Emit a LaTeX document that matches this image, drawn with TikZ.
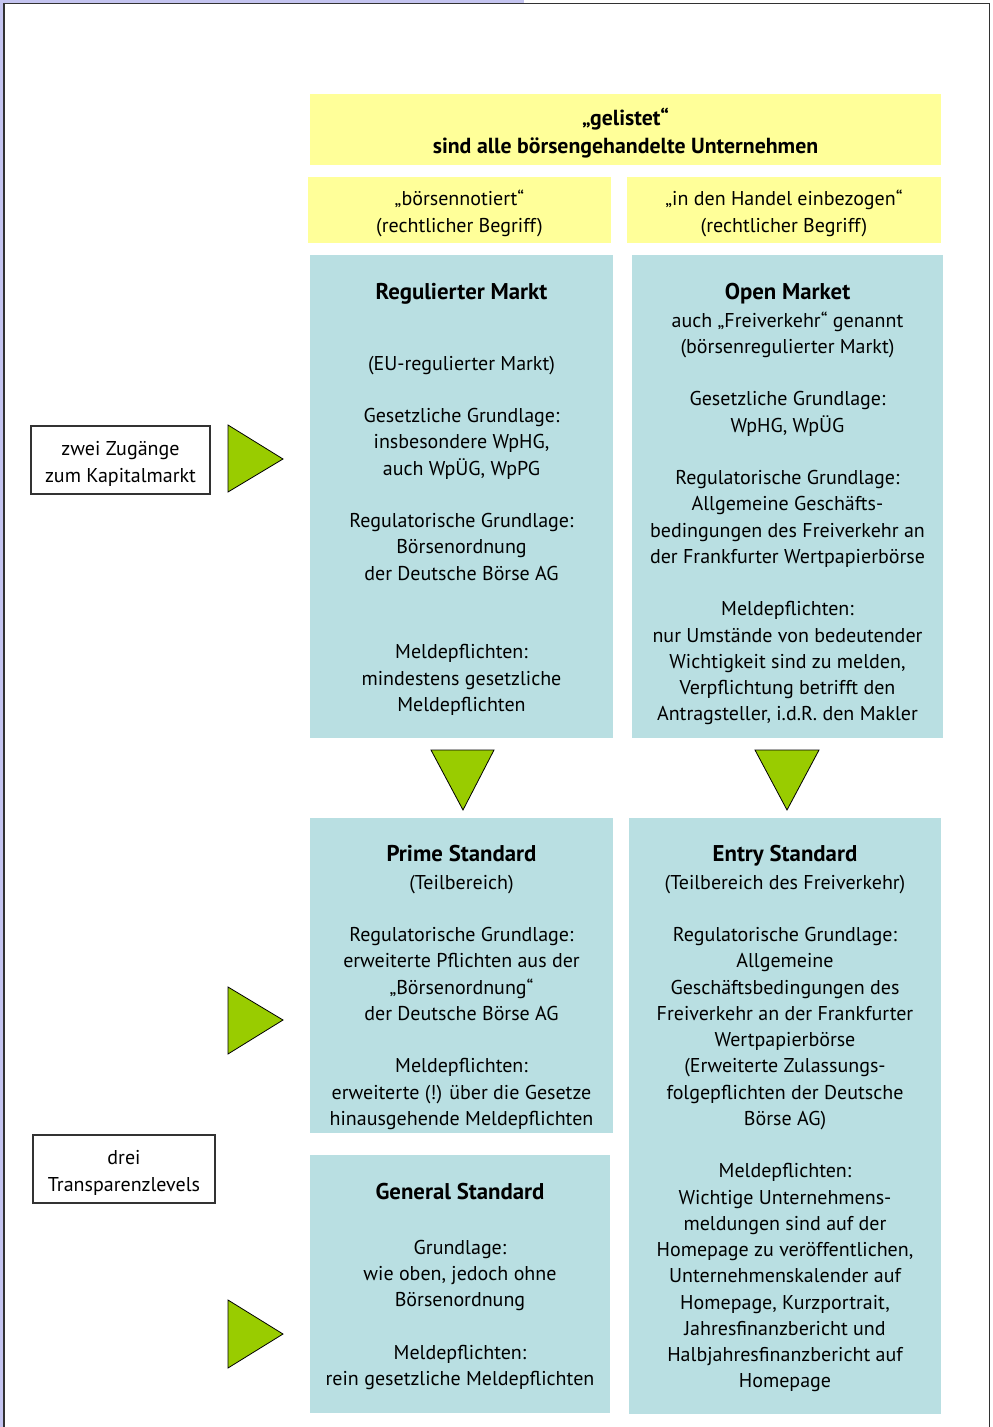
\documentclass[tikz,border=0pt]{standalone}
\usepackage{fontspec}
\setmainfont{PT Sans}
\usetikzlibrary{positioning}
\definecolor{myyellow}{RGB}{255,255,153}
\definecolor{myblue}{RGB}{185,223,226}
\definecolor{mygreen}{RGB}{153,204,0}
\definecolor{mylavender}{RGB}{196,196,240}
\definecolor{myframe}{RGB}{50,50,50}
\newcommand{\diagbody}{\fontsize{20}{26.25}\selectfont}
\newcommand{\diagtitle}{\bfseries\fontsize{22.8}{29}\selectfont}
\newcommand{\diaghead}{\bfseries\fontsize{21.8}{28}\selectfont}
\tikzset{
  yellowbox/.style={rectangle, fill=myyellow, anchor=north west, inner sep=0pt},
  bluebox/.style={rectangle, fill=myblue, anchor=north west, inner sep=0pt},
  labelbox/.style={rectangle, draw=myframe, line width=1.2pt,
    minimum height=68pt, inner sep=0pt},
  headtext/.style={align=center, font=\diaghead, inner sep=0pt},
  subtext/.style={align=center, font=\diagbody, inner sep=0pt},
  titletext/.style={anchor=base, font=\diagtitle, inner sep=0pt},
  bodytext/.style={anchor=north, align=center, font=\diagbody, inner sep=0pt},
  pointer/.style={draw=black, line width=0.8pt, fill=mygreen, line join=miter}
}

\begin{document}
\begin{tikzpicture}[x=1pt, y=-1pt]
  \useasboundingbox (0,0) rectangle (993,1427);
  % slide frame
  \fill[mylavender] (0,0) rectangle (524,2.5);
  \fill[mylavender] (0,0) rectangle (2.5,1427);
  \draw[myframe, line width=1.5pt] (4,1430) -- (4,3.5) -- (989.5,3.5) -- (989.5,1430);

  % header boxes
  \node[yellowbox, minimum width=631pt, minimum height=71pt] (gelistet) at (310,94) {};
  \node[headtext] (gelistettext) at (625.5,132) {\strut„gelistet“\\sind alle börsengehandelte Unternehmen};
  \node[yellowbox, minimum width=303pt, minimum height=66pt] (notiert) at (308,177) {};
  \node[subtext] (notierttext) at (459.5,212) {\strut„börsennotiert“\\(rechtlicher Begriff)};
  \node[yellowbox, minimum width=314pt, minimum height=66pt] (handel) at (627,177) {};
  \node[subtext] (handeltext) at (784,212) {\strut„in den Handel einbezogen“\\(rechtlicher Begriff)};

  % Regulierter Markt
  \node[bluebox, minimum width=303pt, minimum height=483pt] (regbox) at (310,255) {};
  \node[titletext] (regtitle) at (461.5,299) {Regulierter Markt};
  \node[bodytext] (regbody) at (461.5,351.6) {\strut(EU-regulierter Markt)\\[26.25pt]
    Gesetzliche Grundlage:\\insbesondere WpHG,\\auch WpÜG, WpPG\\[26.25pt]
    Regulatorische Grundlage:\\Börsenordnung\\der Deutsche Börse AG\\[52.5pt]
    Meldepflichten:\\mindestens gesetzliche\\Meldepflichten};

  % Open Market
  \node[bluebox, minimum width=311pt, minimum height=483pt] (openbox) at (632,255) {};
  \node[titletext] (opentitle) at (787.5,299) {Open Market};
  \node[bodytext] (openbody) at (787.5,308.6) {\strut auch „Freiverkehr“ genannt\\(börsenregulierter Markt)\\[26.25pt]
    Gesetzliche Grundlage:\\WpHG, WpÜG\\[26.25pt]
    Regulatorische Grundlage:\\Allgemeine Geschäfts-\\bedingungen des Freiverkehr an\\der Frankfurter Wertpapierbörse\\[26.25pt]
    Meldepflichten:\\nur Umstände von bedeutender\\Wichtigkeit sind zu melden,\\Verpflichtung betrifft den\\Antragsteller, i.d.R. den Makler};

  % Prime Standard
  \node[bluebox, minimum width=303pt, minimum height=315pt] (primebox) at (310,818) {};
  \node[titletext] (primetitle) at (461.5,861) {Prime Standard};
  \node[bodytext] (primebody) at (461.5,870.6) {\strut(Teilbereich)\\[26.25pt]
    Regulatorische Grundlage:\\erweiterte Pflichten aus der\\„Börsenordnung“\\der Deutsche Börse AG\\[26.25pt]
    Meldepflichten:\\erweiterte (!) über die Gesetze\\hinausgehende Meldepflichten};

  % Entry Standard
  \node[bluebox, minimum width=312pt, minimum height=596pt] (entrybox) at (629,818) {};
  \node[titletext] (entrytitle) at (785,861) {Entry Standard};
  \node[bodytext] (entrybody) at (785,870.6) {\strut(Teilbereich des Freiverkehr)\\[26.25pt]
    Regulatorische Grundlage:\\Allgemeine\\Geschäftsbedingungen des\\Freiverkehr an der Frankfurter\\Wertpapierbörse\\(Erweiterte Zulassungs-\\folgepflichten der Deutsche\\Börse AG)\\[26.25pt]
    Meldepflichten:\\Wichtige Unternehmens-\\meldungen sind auf der\\Homepage zu veröffentlichen,\\Unternehmenskalender auf\\Homepage, Kurzportrait,\\Jahresfinanzbericht und\\Halbjahresfinanzbericht auf\\Homepage};

  % General Standard
  \node[bluebox, minimum width=300pt, minimum height=258pt] (generalbox) at (310,1155) {};
  \node[titletext] (generaltitle) at (460,1199) {General Standard};
  \node[bodytext] (generalbody) at (460,1235.6) {\strut Grundlage:\\wie oben, jedoch ohne\\Börsenordnung\\[26.25pt]
    Meldepflichten:\\rein gesetzliche Meldepflichten};

  % side labels
  \node[labelbox, minimum width=179pt] (zugaenge) at (120.5,460) {};
  \node[subtext] (zugaengetext) at (120.5,464) {zwei Zugänge\\zum Kapitalmarkt};
  \node[labelbox, minimum width=182pt] (levels) at (124,1169) {};
  \node[subtext] (levelstext) at (124,1173) {drei\\Transparenzlevels};

  % green pointers
  \draw[pointer] (228,425) -- (283,459) -- (228,492) -- cycle;
  \draw[pointer] (228,987) -- (283,1020) -- (228,1054) -- cycle;
  \draw[pointer] (228,1300) -- (283,1334) -- (228,1368) -- cycle;
  \draw[pointer] (431,750) -- (494,750) -- (463,810) -- cycle;
  \draw[pointer] (755,750) -- (819,750) -- (787,810) -- cycle;
\end{tikzpicture}
\end{document}
